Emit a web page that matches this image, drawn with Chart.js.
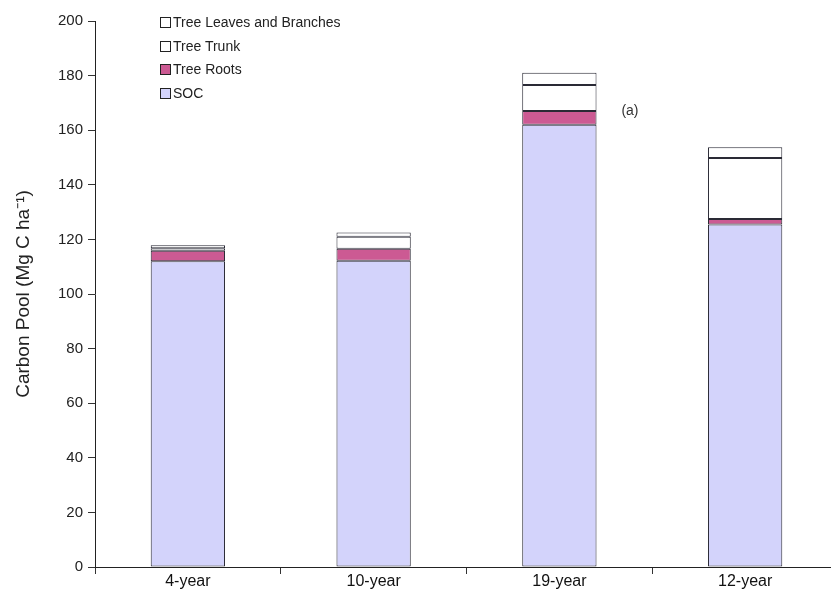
<!DOCTYPE html>
<html>
<head>
<meta charset="utf-8">
<script src="https://cdn.jsdelivr.net/npm/chart.js@4/dist/chart.umd.min.js"></script>
<style>
  html, body { margin: 0; padding: 0; background: #fff; overflow: hidden; }
  #wrap { position: relative; width: 831px; height: 603px; overflow: hidden; }
  #box { position: absolute; left: 0; top: 0; width: 842px; height: 603px; }
  #legend { position: absolute; left: 160px; top: 13px; font: 14px "Liberation Sans", Arial, sans-serif; color: #222; }
  #legend div { height: 23.7px; line-height: 18px; white-space: nowrap; }
  #legend span.sw { display: inline-block; width: 9px; height: 9px; border: 1px solid #222; margin-right: 2px; vertical-align: -1px; }
</style>
</head>
<body>
<div id="wrap">
  <div id="box"><canvas id="c"></canvas></div>
  <div id="legend"></div>
</div>
<script>
// カテゴリ
const ages = ['4-year', '10-year', '19-year', '12-year'];
// 各プールの値 (Mg C ha-1)
const socValues = [112, 112.2, 162, 125.5];
const rootValues = [3.8, 4.4, 5, 2];
const trunkValues = [1, 4.4, 9.6, 22.3];
const leafValues = [1.1, 1.5, 4.4, 4];
const yTicks = [0, 20, 40, 60, 80, 100, 120, 140, 160, 180, 200];

const seriesNames = ['SOC', 'Tree Roots', 'Tree Trunk', 'Tree Leaves and Branches'];
const seriesColors = ['#d3d3fb', '#cc5a93', '#ffffff', '#ffffff'];
const seriesData = [socValues, rootValues, trunkValues, leafValues];

const datasets = seriesNames.map((name, i) => ({
    label: name,
    data: seriesData[i],
    backgroundColor: seriesColors[i],
    borderColor: '#2a2a35',
    borderWidth: 1,
    borderSkipped: false,
    barPercentage: 0.8,
    categoryPercentage: 0.5
}));

// 凡例 (上から逆順)
const legend = document.getElementById('legend');
for (let i = seriesNames.length - 1; i >= 0; i--) {
    const row = document.createElement('div');
    row.innerHTML = `<span class="sw" style="background:${seriesColors[i]}"></span>${seriesNames[i]}`;
    legend.appendChild(row);
}

// "(a)" の注記
const notePlugin = {
    id: 'note',
    afterDraw(chart) {
        const ctx = chart.ctx;
        const x = chart.scales.x.getPixelForValue(2);
        const y = chart.scales.y.getPixelForValue(167);
        ctx.save();
        ctx.font = '14px "Liberation Sans", Arial, sans-serif';
        ctx.fillStyle = '#333';
        ctx.textAlign = 'left';
        ctx.textBaseline = 'middle';
        ctx.fillText('(a)', x + 62, y);
        ctx.restore();
    }
};

new Chart(document.getElementById('c'), {
    type: 'bar',
    data: { labels: ages, datasets: datasets },
    plugins: [notePlugin],
    options: {
        responsive: true,
        maintainAspectRatio: false,
        animation: false,
        layout: { padding: { top: 21, left: 12, right: 4, bottom: 0 } },
        plugins: { legend: { display: false }, tooltip: { enabled: false } },
        scales: {
            x: {
                stacked: true,
                grid: { display: true, drawOnChartArea: false, color: '#333', tickLength: 7, offset: true },
                border: { color: '#222', width: 1 },
                ticks: { color: '#111', font: { size: 16, family: '"Liberation Sans", Arial' }, padding: -2 },
                afterFit(scale) { scale.height = 36; }
            },
            y: {
                stacked: true,
                min: 0,
                max: 200,
                afterBuildTicks(scale) { scale.ticks = yTicks.map(v => ({ value: v })); },
                grid: { display: true, drawOnChartArea: false, color: '#333', tickLength: 7 },
                border: { color: '#222', width: 1 },
                ticks: { color: '#222', font: { size: 15, family: '"Liberation Sans", Arial' }, padding: 5 },
                title: {
                    display: true,
                    text: 'Carbon Pool (Mg C ha\u207B\u00B9)',
                    color: '#222',
                    font: { size: 19, family: '"Liberation Sans", Arial' },
                    padding: { top: 0, bottom: 9 }
                },
                afterFit(scale) { scale.width = 83; }
            }
        }
    }
});
</script>
</body>
</html>
